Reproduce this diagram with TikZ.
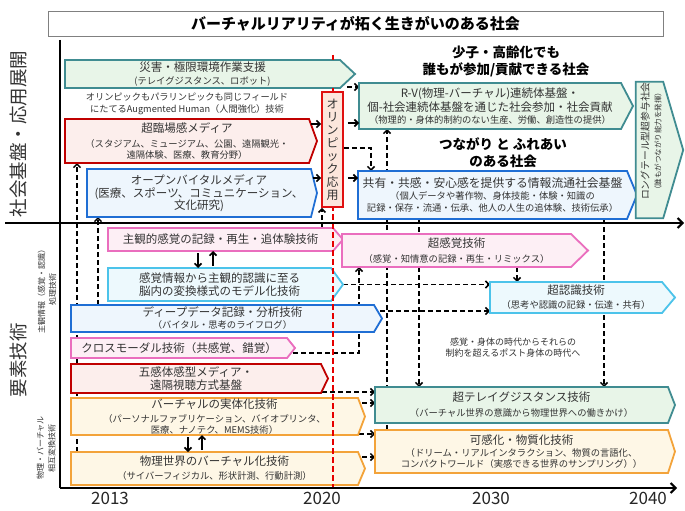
\documentclass[tikz,border=0pt]{standalone}
\usepackage{fontspec}
\setmainfont{Noto Sans CJK JP}
\usetikzlibrary{arrows.meta,calc}
\pgfdeclarelayer{conn}
\pgfdeclarelayer{bg}
\pgfsetlayers{conn,bg,main}
\definecolor{tealb}{RGB}{64,140,145}
\definecolor{tealf}{RGB}{232,245,232}
\definecolor{redb}{RGB}{192,0,0}
\definecolor{redf}{RGB}{252,238,236}
\definecolor{blueb}{RGB}{31,110,212}
\definecolor{bluef}{RGB}{238,246,253}
\definecolor{pinkb}{RGB}{234,110,190}
\definecolor{pinkf}{RGB}{253,239,245}
\definecolor{cyanb}{RGB}{76,195,234}
\definecolor{cyanf}{RGB}{237,249,253}
\definecolor{orab}{RGB}{243,163,58}
\definecolor{oraf}{RGB}{254,247,230}
\definecolor{olyb}{RGB}{224,16,16}
\definecolor{olyf}{RGB}{252,230,220}
\definecolor{txt}{RGB}{51,51,51}
\definecolor{redline}{RGB}{230,0,0}
\newcommand\mainsz{\fontsize{11.5}{13}\selectfont}
\newcommand\subsz{\fontsize{9.3}{11}\selectfont}
\tikzset{
  boxlbl/.style={inner sep=0pt, outer sep=0pt, align=center, text=txt, font=\mainsz},
  tealbox/.style={draw=tealb, fill=tealf, line width=1.8pt, line join=miter},
  redbox/.style={draw=redb, fill=redf, line width=1.8pt, line join=miter},
  bluebox/.style={draw=blueb, fill=bluef, line width=1.8pt, line join=miter},
  pinkbox/.style={draw=pinkb, fill=pinkf, line width=1.8pt, line join=miter},
  cyanbox/.style={draw=cyanb, fill=cyanf, line width=1.8pt, line join=miter},
  orabox/.style={draw=orab, fill=oraf, line width=1.8pt, line join=miter},
  dconn/.style={line width=1.5pt, dash pattern=on 5pt off 3pt, -{Straight Barb[length=3.5pt,width=7pt]}},
  sconn/.style={line width=1.6pt, -{Straight Barb[length=3.5pt,width=7pt]}},
  axisl/.style={line width=2pt, black},
  redl/.style={line width=2pt, redline, dash pattern=on 6pt off 3pt},
  plaintxt/.style={inner sep=0pt, align=center, text=txt},
  head/.style={inner sep=0pt, align=center, font=\fontsize{13.5}{17}\selectfont\bfseries},
  yearlbl/.style={inner sep=0pt, font=\fontsize{17}{20}\selectfont, text=black!85},
}
% #1 style, #2 name, #3 x1, #4 y1, #5 x2, #6 y2, #7 tip length, #8 text
\newcommand\abox[8]{%
  \node[boxlbl, minimum width={(#5)-(#3)}, minimum height={(#6)-(#4)}] (#2) at ({((#3)+(#5))/2},{((#4)+(#6))/2}) {#8};
  \begin{pgfonlayer}{bg}
    \draw[#1] (#2.north west) -- (#2.north east) -- ([xshift=#7pt]#2.east) -- (#2.south east) -- (#2.south west) -- cycle;
  \end{pgfonlayer}}
\begin{document}
\begin{tikzpicture}[x=1pt,y=-1pt]
\useasboundingbox (0,0) rectangle (685,511);
\begin{pgfonlayer}{conn}
  \fill[white] (0,0) rectangle (685,511);
\end{pgfonlayer}

% title
\node[draw=black!50, line width=0.8pt, minimum width=615, minimum height=25, inner sep=0pt,
  font=\fontsize{15}{18}\selectfont\bfseries] (title) at (355.5,23.5) {バーチャルリアリティが拓く生きがいのある社会};

% left labels
\node[rotate=90, inner sep=0pt, font=\fontsize{18.5}{20}\selectfont, text=txt] (lab1) at (18,134) {社会基盤・応用展開};
\node[rotate=90, inner sep=0pt, font=\fontsize{18.5}{20}\selectfont, text=txt] (lab2) at (18,360) {要素技術};
\node[rotate=90, plaintxt, font=\fontsize{8}{11}\selectfont] (lab3) at (47,289) {主観情報（感覚・認識）\\処理技術};
\node[rotate=90, plaintxt, font=\fontsize{8}{11.5}\selectfont] (lab4) at (46,448) {物理・バーチャル\\相互変換技術};

% top section boxes
\abox{tealbox}{dis}{65}{60}{340}{88}{15}{災害・極限環境作業支援\\{\subsz (テレイグジスタンス、ロボット)}}
\node[plaintxt, font=\fontsize{9.2}{12}\selectfont] (aug) at (187,104) {オリンピックもパラリンピックも同じフィールド\\にたてるAugmented Human（人間強化）技術};
\abox{redbox}{sup}{65}{119}{309}{163}{8}{超臨場感メディア\\[2pt]{\subsz （スタジアム、ミュージアム、公園、遠隔観光・}\\[-2pt]{\subsz 遠隔体験、医療、教育分野）}}
\abox{bluebox}{open}{87}{169}{311}{217}{6}{オープンバイタルメディア\\(医療、スポーツ、コミュニケーション、\\[-1pt]文化研究)}
\abox{tealbox}{rv}{359}{83}{621}{129}{12}{R-V(物理-バーチャル)連続体基盤・\\[1pt]個-社会連続体基盤を通じた社会参加・社会貢献\\[-1pt]{\subsz （物理的・身体的制約のない生産、労働、創造性の提供）}}
\abox{bluebox}{share}{358}{171}{627}{219}{10}{{\fontsize{11.8}{13}\selectfont 共有・共感・安心感を提供する情報流通社会基盤}\\[-1pt]{\subsz （個人データや著作物、身体技能・体験・知識の}\\[-1pt]{\subsz 記録・保存・流通・伝承、他人の人生の追体験、技術伝承）}}
\node[head] (h1) at (506,61.5) {少子・高齢化でも\\誰もが参加/貢献できる社会};
\node[head] (h2) at (503,153) {つながり と ふれあい\\のある社会};

% long-tail box
\node[inner sep=0pt, minimum width=27, minimum height=136] (lt) at (649.5,150) {};
\begin{pgfonlayer}{bg}
  \draw[tealbox] (lt.north west) -- (lt.north east) -- ([xshift=20pt]lt.east) -- (lt.south east) -- (lt.south west) -- cycle;
\end{pgfonlayer}
\node[rotate=90, plaintxt, font=\fontsize{9.8}{12}\selectfont] (ltt) at (651,141) {ロングテール型超参与社会\\{\fontsize{7.5}{10}\selectfont （誰もがつながり能力を発揮）}};

% lower section boxes
\abox{pinkbox}{shukan}{108}{228}{333}{251}{10}{主観的感覚の記録・再生・追体験技術}
\abox{pinkbox}{chokankaku}{342}{234}{571}{267}{17}{超感覚技術\\[2pt]{\subsz （感覚・知情意の記録・再生・リミックス）}}
\abox{cyanbox}{kankaku}{108}{268}{331}{301}{12}{感覚情報から主観的認識に至る\\脳内の変換様式のモデル化技術}
\abox{bluebox}{deep}{71}{305}{374}{332}{8}{ディープデータ記録・分析技術\\[-1pt]{\subsz （バイタル・思考のライフログ）}}
\abox{pinkbox}{cross}{71}{338}{287}{358}{8}{クロスモーダル技術（共感覚、錯覚）}
\abox{cyanbox}{ninshiki}{490}{282}{662}{313}{13}{超認識技術\\[1pt]{\subsz （思考や認識の記録・伝達・共有）}}
\node[plaintxt, font=\fontsize{9}{11}\selectfont] (post) at (513,348) {感覚・身体の時代からそれらの\\制約を超えるポスト身体の時代へ};
\abox{redbox}{gokan}{71}{364}{321}{393}{7}{五感体感型メディア・\\遠隔視聴方式基盤}
\abox{tealbox}{tele}{375}{387}{668}{423}{7}{超テレイグジスタンス技術\\[2pt]{\subsz （バーチャル世界の意識から物理世界への働きかけ）}}
\abox{orabox}{jittai}{71}{398}{358}{435}{7}{バーチャルの実体化技術\\[1pt]{\subsz （パーソナルファブリケーション、バイオプリンタ、}\\[-2pt]{\subsz 医療、ナノテク、MEMS技術）}}
\abox{orabox}{butsuri}{71}{452}{358}{485}{7}{物理世界のバーチャル化技術\\[1pt]{\subsz （サイバーフィジカル、形状計測、行動計測）}}
\abox{orabox}{kakan}{375}{430}{668}{473}{7}{可感化・物質化技術\\[-1pt]{\subsz （ドリーム・リアルインタラクション、物質の言語化、}\\[-2pt]{\subsz コンパクトワールド（実感できる世界のサンプリング））}}

% Olympic box (main layer, covers the red line)
\node[draw=olyb, fill=olyf, line width=1.8pt, minimum width=21, minimum height=115, inner sep=0pt,
  align=center, font=\fontsize{12}{13}\selectfont, text=txt] (oly) at (332.5,149.5) {オ\\リ\\ン\\ピ\\ッ\\ク\\応\\用};

% red 2020 line (above box fills, below the Olympic box)
\coordinate (rt) at (333,55);
\coordinate (rb) at (333,488);
\begin{pgfonlayer}{bg}
  \draw[redl] (rt) -- (rt |- dis.north);
  \draw[redl] (rt |- dis.south) -- (rb);
\end{pgfonlayer}

% connectors behind boxes
\begin{pgfonlayer}{conn}
  \draw[dconn] (kakan.north -| 387,0) -- (rv.south -| 387,0);
  \draw[dconn] (share.south -| 419,0) -- (tele.north -| 419,0);
  \draw[dconn] (share.south -| 604,0) -- (tele.north -| 604,0);
  \draw[dconn] (butsuri.north -| 77,0) -- (sup.south -| 77,0);
  \draw[dconn] (deep.north -| 98,0) -- (open.south -| 98,0);
  \draw[dconn] (shukan.north -| 322,0) -- (oly.south -| 322,0);
  \draw[dconn] ([xshift=7pt,yshift=1pt]dis.south east) -- (rv.west |- 0,87);
  \draw[dconn] (oly.east |- 0,148) -| ([xshift=13pt]share.north west);
  \draw[dconn] (chokankaku.south -| 517,0) -- (ninshiki.north -| 517,0);
  \draw[dconn] ([xshift=12pt]kankaku.east) -- (ninshiki.west |- kankaku.east);
  \draw[dconn] ([xshift=6pt]cross.east |- 0,353) -| (chokankaku.south -| 359,0);
  \draw[dconn] ([xshift=6pt]deep.east |- 0,311) -- (ninshiki.west |- 0,311);
  \draw[dconn] ([xshift=1pt]gokan.east |- 0,392) -- (tele.west |- 0,392);
  \draw[dconn] ([xshift=4pt]jittai.east |- 0,403) -- (tele.west |- 0,403);
  \draw[dconn] ([xshift=1pt]jittai.east |- 0,434) -- (kakan.west |- 0,434);
  \draw[dconn] ([xshift=4pt]butsuri.east |- 0,457) -- (kakan.west |- 0,457);
\end{pgfonlayer}

% axes
\coordinate (origin) at (60,488);
\coordinate (ytop) at (60,40);
\coordinate (xend) at (677,488);
\coordinate (mleft) at (5,223);
\coordinate (mright) at (684,223);
\draw[axisl] (ytop) -- (origin);
\draw[axisl, -{Straight Barb[length=5pt,width=10pt]}] (origin) -- (xend);
\draw[axisl, -{Straight Barb[length=5pt,width=10pt]}] (mleft) -- (mright);

% solid short arrows
\draw[sconn] ([xshift=2pt]sup.east |- 0,124) -- (oly.west |- 0,124);
\draw[sconn] ([xshift=4pt]oly.east |- 0,123) -- (rv.west |- 0,123);
\draw[sconn] ([xshift=2pt]open.east |- 0,178) -- (oly.west |- 0,178);
\draw[sconn] ([xshift=4pt]oly.east |- 0,178) -- (share.west |- 0,178);
\draw[sconn, shorten <=2pt] (shukan.south -| 198,0) -- (kankaku.north -| 198,0);
\draw[sconn, shorten <=2pt] (kankaku.north -| 213,0) -- (shukan.south -| 213,0);
\draw[sconn, shorten <=2pt] (jittai.south -| 188,0) -- (butsuri.north -| 188,0);
\draw[sconn, shorten <=2pt] (butsuri.north -| 202,0) -- (jittai.south -| 202,0);

% years
\node[yearlbl] (y13) at (110,498) {2013};
\node[yearlbl] (y20) at (322,498) {2020};
\node[yearlbl] (y30) at (491,498) {2030};
\node[yearlbl] (y40) at (648,498) {2040};
\end{tikzpicture}
\end{document}
